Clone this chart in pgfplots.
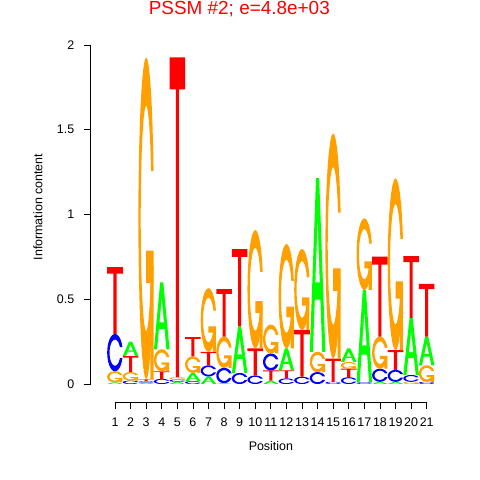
\documentclass[border=0pt]{standalone}
\usepackage{fontspec}
\setmainfont{Liberation Sans}
\usepackage{pgfplots}
\pgfplotsset{compat=1.18}
\usepackage{pgfplotstable}
\definecolor{colA}{RGB}{0,255,0}
\definecolor{colC}{RGB}{0,0,255}
\definecolor{colG}{RGB}{255,160,0}
\definecolor{colT}{RGB}{255,0,0}

% letter outlines in the unit square (seqLogo polygons)
\pgfplotstableread{
x y
0 1
1 1
1 0.9
0.6 0.9
0.6 0
0.4 0
0.4 0.9
0 0.9
}\shapeT
\pgfplotstableread{
x y
0 0
0.4 1
0.6 1
1 0
0.8 0
0.68 0.3
0.32 0.3
0.2 0
}\shapeA
\pgfplotstableread{
x y
0.36 0.4
0.5 0.75
0.64 0.4
}\shapeAhole
\pgfplotstableread{
x y
0.97767 0.35224
0.94821 0.27836
0.90772 0.21057
0.85672 0.14964
0.79685 0.09766
0.72948 0.05577
0.65634 0.02507
0.57927 0.00632
0.5 0
0.40245 0.00960
0.30866 0.03806
0.22221 0.08426
0.14645 0.14645
0.08426 0.22221
0.03806 0.30866
0.00960 0.40245
0 0.5
0.00960 0.59755
0.03806 0.69134
0.08426 0.77779
0.14645 0.85355
0.22221 0.91574
0.30866 0.96194
0.40245 0.99040
0.5 1
0.57927 0.99368
0.65634 0.97493
0.72948 0.94423
0.79685 0.90234
0.85672 0.85036
0.90772 0.78943
0.94821 0.72164
0.97767 0.64776
0.81374 0.64776
0.78540 0.70260
0.74970 0.74525
0.70780 0.78164
0.66064 0.81096
0.60943 0.83245
0.55549 0.84557
0.5 0.85
0.43172 0.84328
0.36606 0.82336
0.30555 0.79101
0.25251 0.74749
0.20899 0.69445
0.17664 0.63394
0.15672 0.56828
0.15 0.5
0.15672 0.43172
0.17664 0.36606
0.20899 0.30555
0.25251 0.25251
0.30555 0.20899
0.36606 0.17664
0.43172 0.15672
0.5 0.15
0.55549 0.15443
0.60943 0.16755
0.66064 0.18904
0.70780 0.21836
0.74970 0.25475
0.78540 0.29740
0.81374 0.35224
}\shapeC
\pgfplotstableread{
x y
0.97767 0.4
0.5 0.4
0.5 0.3
0.77767 0.3
0.77767 0
0.97767 0
}\shapeGbar

% \Lx{position}{bottom}{top}
\newcommand{\LT}[3]{\addplot[fill=colT,draw=none] table[x expr=#1-0.5+\thisrowno{0}, y expr=#2+(#3-#2)*\thisrowno{1}] {\shapeT};}
\newcommand{\LC}[3]{\addplot[fill=colC,draw=none] table[x expr=#1-0.5+\thisrowno{0}, y expr=#2+(#3-#2)*\thisrowno{1}] {\shapeC};}
\newcommand{\LG}[3]{\addplot[fill=colG,draw=none] table[x expr=#1-0.5+\thisrowno{0}, y expr=#2+(#3-#2)*\thisrowno{1}] {\shapeC};
\addplot[fill=colG,draw=none] table[x expr=#1-0.5+\thisrowno{0}, y expr=#2+(#3-#2)*\thisrowno{1}] {\shapeGbar};}
\newcommand{\LA}[3]{\addplot[fill=colA,draw=none] table[x expr=#1-0.5+\thisrowno{0}, y expr=#2+(#3-#2)*\thisrowno{1}] {\shapeA};
\addplot[fill=white,draw=none] table[x expr=#1-0.5+\thisrowno{0}, y expr=#2+(#3-#2)*\thisrowno{1}] {\shapeAhole};}

\begin{document}
\begin{tikzpicture}
\begin{axis}[
  x=15.585bp, y=169.5bp,
  xmin=-0.558, xmax=21.6, ymin=-0.1062, ymax=2,
  axis x line*=bottom, axis y line*=left,
  axis line style={draw=none},
  clip=false,
  xtick={1,...,21}, ytick={0,0.5,1,1.5,2},
  yticklabels={0,0.5,1,1.5,2},
  tick align=outside,
  major tick length=7bp,
  tick style={black, line width=0.8bp},
  ticklabel style={font=\fontsize{12.5}{15}\selectfont},
  /pgf/number format/assume math mode=true,
  xticklabel style={yshift=-5.5bp},
  yticklabel style={xshift=-6bp},
]
\coordinate (O) at (axis cs:0,0);
\addplot[black, line width=0.8bp] coordinates {(1,-0.1062) (21,-0.1062)};
\addplot[black, line width=0.8bp] coordinates {(-0.558,0) (-0.558,2)};
% column 1
\LA{1}{0}{0.01}\LG{1}{0.01}{0.075}\LC{1}{0.075}{0.295}\LT{1}{0.295}{0.69}
% column 2
\LC{2}{0}{0.02}\LG{2}{0.02}{0.07}\LT{2}{0.07}{0.165}\LA{2}{0.165}{0.25}
% column 3
\LA{3}{0}{0.008}\LC{3}{0.008}{0.016}\LT{3}{0.016}{0.027}\LG{3}{0.027}{1.927}
% column 4
\LC{4}{0}{0.03}\LT{4}{0.03}{0.075}\LG{4}{0.075}{0.205}\LA{4}{0.205}{0.60}
% column 5
\LA{5}{0}{0.013}\LC{5}{0.013}{0.026}\LG{5}{0.026}{0.04}\LT{5}{0.04}{1.927}
% column 6
\LC{6}{0}{0.017}\LA{6}{0.017}{0.066}\LG{6}{0.066}{0.163}\LT{6}{0.163}{0.277}
% column 7
\LA{7}{0}{0.045}\LC{7}{0.045}{0.11}\LT{7}{0.11}{0.19}\LG{7}{0.19}{0.565}
% column 8
\LA{8}{0}{0.005}\LC{8}{0.005}{0.095}\LG{8}{0.095}{0.28}\LT{8}{0.28}{0.56}
% column 9
\LC{9}{0}{0.065}\LA{9}{0.065}{0.34}\LT{9}{0.34}{0.795}
% column 10
\LC{10}{0}{0.05}\LT{10}{0.05}{0.21}\LG{10}{0.21}{0.908}
% column 11
\LA{11}{0}{0.02}\LT{11}{0.02}{0.08}\LC{11}{0.08}{0.18}\LG{11}{0.18}{0.35}
% column 12
\LC{12}{0}{0.033}\LT{12}{0.033}{0.08}\LA{12}{0.08}{0.21}\LG{12}{0.21}{0.826}
% column 13
\LC{13}{0}{0.043}\LT{13}{0.043}{0.32}\LG{13}{0.32}{0.796}
% column 14
\LC{14}{0}{0.07}\LG{14}{0.07}{0.19}\LA{14}{0.19}{1.215}
% column 15
\LC{15}{0}{0.013}\LT{15}{0.013}{0.15}\LG{15}{0.15}{1.479}
% column 16
\LC{16}{0}{0.04}\LT{16}{0.04}{0.09}\LG{16}{0.09}{0.13}\LA{16}{0.13}{0.21}
% column 17
\LC{17}{0}{0.01}\LA{17}{0.01}{0.555}\LG{17}{0.555}{0.977}
% column 18
\LA{18}{0}{0.013}\LC{18}{0.013}{0.09}\LG{18}{0.09}{0.28}\LT{18}{0.28}{0.751}
% column 19
\LA{19}{0}{0.013}\LC{19}{0.013}{0.083}\LT{19}{0.083}{0.2}\LG{19}{0.2}{1.213}
% column 20
\LG{20}{0}{0.013}\LC{20}{0.013}{0.053}\LA{20}{0.053}{0.39}\LT{20}{0.39}{0.755}
% column 21
\LC{21}{0}{0.013}\LG{21}{0.013}{0.11}\LA{21}{0.11}{0.28}\LT{21}{0.28}{0.59}
\end{axis}
\path (O) ++(139.9bp,369bp) node[anchor=base, text=red, font=\fontsize{19}{22}\selectfont, inner sep=0pt] {PSSM \#2; e=4.8e+03};
\path (O) ++(-61.4bp,177bp) node[rotate=90, font=\fontsize{12.5}{15}\selectfont, inner sep=0pt] {Information content};
\path (O) ++(171.5bp,-66bp) node[anchor=base, font=\fontsize{12.5}{15}\selectfont, inner sep=0pt] {Position};
\pgfresetboundingbox
\path[use as bounding box] (O) ++(-99.4bp,-96bp) rectangle ++(480bp,480bp);
\end{tikzpicture}
\end{document}
